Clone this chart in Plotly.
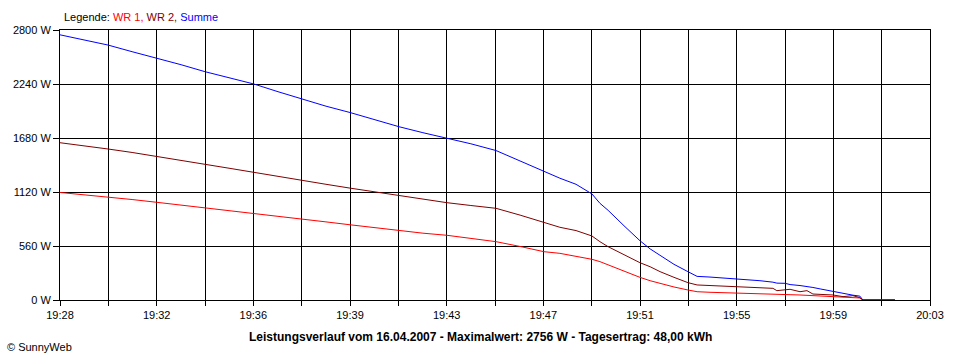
import plotly.graph_objects as go

# minutes after 19:28
minutes = [0.00, 0.97, 1.93, 2.90, 3.90, 4.87, 5.83, 6.84, 7.80, 8.77, 9.74, 10.70,
           11.67, 12.67, 13.64, 14.60, 15.57, 16.53, 17.54, 18.51, 19.47, 20.11,
           20.76, 21.40, 21.72, 22.05, 22.69, 23.33, 23.74, 24.14, 24.70, 25.26,
           25.63, 26.15, 26.67, 27.24, 27.64, 28.16, 28.68, 28.84, 29.17, 29.37,
           29.77, 30.05, 30.29, 30.58, 30.86, 31.10, 31.50, 31.90, 32.18, 32.30,
           32.99, 33.59]

wr1 = [1115, 1092, 1070, 1042, 1013, 985, 957, 928, 899, 868, 837, 810,
       780, 748, 716, 693, 671, 640, 605, 555, 501, 484,
       455, 422, 398, 363, 300, 235, 200, 170, 135, 104,
       86, 80, 75, 69, 65, 59, 58, 57, 56, 55,
       52, 48, 46, 44, 41, 38, 30, 25, 21, 0,
       0, 0]

wr2 = [1631, 1600, 1566, 1530, 1490, 1450, 1410, 1365, 1324, 1280, 1237, 1200,
       1160, 1120, 1082, 1045, 1009, 980, 951, 880, 802, 754,
       720, 664, 605, 553, 470, 387, 345, 294, 235, 180,
       156, 150, 140, 138, 131, 125, 121, 97, 110, 111,
       86, 97, 62, 58, 55, 52, 35, 45, 24, 0,
       0, 0]

summe = [2750, 2700, 2644, 2575, 2510, 2440, 2368, 2300, 2240, 2160, 2081, 2010,
         1944, 1870, 1797, 1735, 1677, 1620, 1550, 1440, 1331, 1263,
         1200, 1100, 1003, 930, 770, 615, 530, 460, 370, 294,
         245, 238, 230, 214, 210, 200, 185, 175, 173, 160,
         150, 135, 130, 115, 100, 86, 65, 50, 40, 0,
         0, 0]

y_tickvals = [0, 560, 1120, 1680, 2240, 2800]
y_ticktext = ["0 W", "560 W", "1120 W", "1680 W", "2240 W", "2800 W"]

x_labels = ["19:28", "19:32", "19:36", "19:39", "19:43", "19:47", "19:51", "19:55", "19:59", "20:03"]
x_span = 35.0
n_ticks = 18
x_tickvals = [x_span * k / n_ticks for k in range(n_ticks + 1)]
x_ticktext = [x_labels[k // 2] if k % 2 == 0 else "" for k in range(n_ticks + 1)]

font = "Liberation Sans, Arial, sans-serif"

fig = go.Figure()
fig.add_trace(go.Scatter(x=minutes, y=wr1, mode="lines", name="WR 1",
                         line=dict(color="#FF0000", width=1)))
fig.add_trace(go.Scatter(x=minutes, y=wr2, mode="lines", name="WR 2",
                         line=dict(color="#800000", width=1)))
fig.add_trace(go.Scatter(x=minutes, y=summe, mode="lines", name="Summe",
                         line=dict(color="#0000FF", width=1)))

fig.update_layout(
    width=960, height=360,
    margin=dict(l=60, r=30, t=30, b=60),
    paper_bgcolor="white", plot_bgcolor="white",
    showlegend=False,
    font=dict(family=font, size=11, color="black"),
    xaxis=dict(range=[0, x_span], tickvals=x_tickvals, ticktext=x_ticktext,
               showgrid=True, gridcolor="black", gridwidth=1,
               showline=True, linecolor="black", linewidth=1, mirror=True,
               ticks="outside", ticklen=5, tickcolor="black", tickwidth=1,
               zeroline=False, tickfont=dict(size=11)),
    yaxis=dict(range=[0, 2800], tickvals=y_tickvals, ticktext=y_ticktext,
               showgrid=True, gridcolor="black", gridwidth=1,
               showline=True, linecolor="black", linewidth=1, mirror=True,
               ticks="outside", ticklen=6, tickcolor="black", tickwidth=1,
               zeroline=False, tickfont=dict(size=11)),
    annotations=[
        dict(xref="paper", yref="paper", x=0.0023, y=(300 - 17) / 270,
             xanchor="left", yanchor="middle", showarrow=False,
             text="Legende: <span style='color:#FF0000'>WR 1,</span> "
                  "<span style='color:#800000'>WR 2,</span> "
                  "<span style='color:#0000FF'>Summe</span>",
             font=dict(size=11, color="black")),
        dict(xref="paper", yref="paper", x=(480 - 60) / 870, y=(300 - 337) / 270,
             xanchor="center", yanchor="middle", showarrow=False,
             text="<b>Leistungsverlauf vom 16.04.2007 - Maximalwert: 2756 W - Tagesertrag: 48,00 kWh</b>",
             font=dict(size=12, color="black")),
        dict(xref="paper", yref="paper", x=(5 - 60) / 870, y=(300 - 347) / 270,
             xanchor="left", yanchor="middle", showarrow=False,
             text="© SunnyWeb", font=dict(size=11, color="black")),
    ],
)

fig.write_html("out.html",
               config={"displayModeBar": False},
               post_script="document.body.style.margin='0';document.body.style.overflow='hidden';")
